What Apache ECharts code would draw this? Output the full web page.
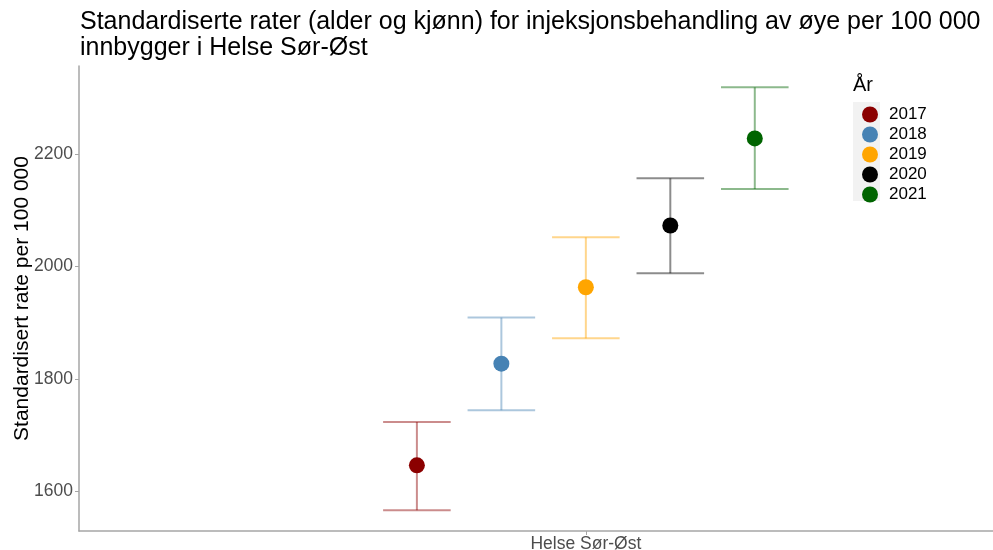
<!DOCTYPE html>
<html>
<head>
<meta charset="utf-8">
<script src="https://cdn.jsdelivr.net/npm/echarts@6/dist/echarts.min.js"></script>
<style>
html,body{margin:0;padding:0;background:#fff;}
#chart{width:993px;height:550px;}
</style>
</head>
<body>
<div id="chart"></div>
<script>
// ---- Data ----
var categories = ['Helse Sør-Øst'];
var years = ['2017', '2018', '2019', '2020', '2021'];
var rates = [1646, 1827, 1963, 2073, 2228];
var lower = [1566, 1744, 1872, 1988, 2138];
var upper = [1723, 1909, 2052, 2157, 2319];
var yTicks = [1600, 1800, 2000, 2200];

var colors = ['#8B0000', '#4682B4', '#FFA500', '#000000', '#006400'];
var errColors = ['rgba(139,0,0,0.45)', 'rgba(70,130,180,0.45)', 'rgba(255,165,0,0.45)', 'rgba(0,0,0,0.45)', 'rgba(0,100,0,0.45)'];

var dodge = 1;      // spacing between years within the category
var capHalf = 0.4;  // half width of error bar caps in x units
var FONT = '"Liberation Sans", Arial, sans-serif';

var series = [];
years.forEach(function (yr, i) {
  var off = (i - (years.length - 1) / 2) * dodge;
  // error bar
  series.push({
    type: 'custom',
    name: yr,
    silent: true,
    z: 1,
    itemStyle: { color: colors[i] },
    data: [[off, lower[i], upper[i]]],
    renderItem: function (params, api) {
      var x = api.value(0), lo = api.value(1), hi = api.value(2);
      var pTop = api.coord([x, hi]);
      var pBot = api.coord([x, lo]);
      var pL = api.coord([x - capHalf, hi]);
      var pR = api.coord([x + capHalf, hi]);
      var style = { stroke: errColors[i], lineWidth: 2, fill: null };
      return {
        type: 'group',
        children: [
          { type: 'line', shape: { x1: pTop[0], y1: pTop[1], x2: pBot[0], y2: pBot[1] }, style: style },
          { type: 'line', shape: { x1: pL[0], y1: pTop[1], x2: pR[0], y2: pTop[1] }, style: style },
          { type: 'line', shape: { x1: pL[0], y1: pBot[1], x2: pR[0], y2: pBot[1] }, style: style }
        ]
      };
    }
  });
  // point
  series.push({
    type: 'scatter',
    name: yr,
    z: 3,
    symbol: 'circle',
    symbolSize: 16,
    itemStyle: { color: colors[i], opacity: 1 },
    data: [[off, rates[i]]]
  });
});

var chart = echarts.init(document.getElementById('chart'), null, { renderer: 'canvas' });
chart.setOption({
  animation: false,
  backgroundColor: '#ffffff',
  title: {
    text: 'Standardiserte rater (alder og kjønn) for injeksjonsbehandling av øye per 100 000\ninnbygger i Helse Sør-Øst',
    left: 75,
    top: 4,
    textStyle: { fontFamily: FONT, fontSize: 25, fontWeight: 'normal', color: '#000', lineHeight: 26 }
  },
  graphic: [
    { type: 'rect', left: 853, top: 102, shape: { width: 27, height: 99 }, style: { fill: '#f2f2f2' }, silent: true },
    { type: 'text', left: 853, top: 75, style: { text: 'År', font: '20px "Liberation Sans", Arial, sans-serif', fill: '#000' } }
  ],
  legend: {
    orient: 'vertical',
    left: 857,
    top: 101,
    itemWidth: 18,
    itemHeight: 16,
    itemGap: 3,
    icon: 'circle',
    data: years.map(function (y, i) { return { name: y, itemStyle: { color: colors[i] } }; }),
    textStyle: { fontFamily: FONT, fontSize: 17, color: '#000', padding: [0, 0, 0, 5] },
    selectedMode: false
  },
  grid: { left: 79, right: 0, top: 66, bottom: 19, containLabel: false, outerBoundsMode: 'none' },
  xAxis: {
    type: 'value',
    min: -6.0,
    max: 4.82,
    axisLine: { show: true, onZero: false, lineStyle: { color: '#a6a6a6', width: 1.5 } },
    axisTick: { show: true, customValues: [0], length: 4, lineStyle: { color: '#a6a6a6' } },
    axisLabel: {
      show: true,
      customValues: [0],
      formatter: function () { return categories[0]; },
      fontFamily: FONT, fontSize: 17.5, color: '#4d4d4d', margin: 4
    },
    splitLine: { show: false }
  },
  yAxis: {
    type: 'value',
    min: 1529,
    max: 2357,
    name: 'Standardisert rate per 100 000',
    nameLocation: 'middle',
    nameGap: 57,
    nameMoveOverlap: false,
    nameTextStyle: { fontFamily: FONT, fontSize: 21, color: '#000', verticalAlign: 'middle' },
    axisLine: { show: true, onZero: false, lineStyle: { color: '#a6a6a6', width: 1.5 } },
    axisTick: { show: true, customValues: yTicks, length: 4, lineStyle: { color: '#a6a6a6' } },
    axisLabel: {
      customValues: yTicks,
      formatter: function (v) { return String(v); },
      fontFamily: FONT, fontSize: 17.5, color: '#4d4d4d', margin: 6
    },
    splitLine: { show: false }
  },
  series: series
});
</script>
</body>
</html>
